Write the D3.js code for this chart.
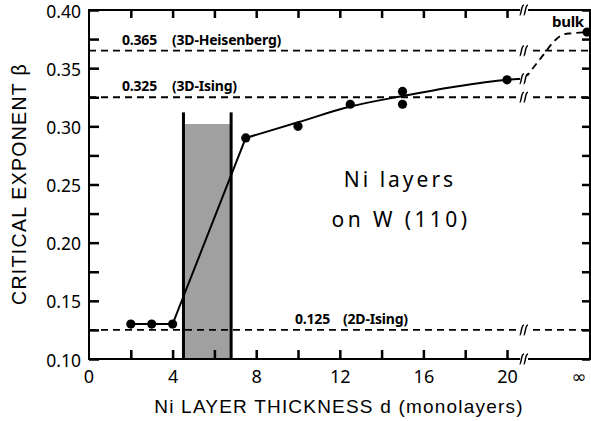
<!DOCTYPE html>
<html>
<head>
<meta charset="utf-8">
<script src="https://cdn.jsdelivr.net/npm/d3@7"></script>
<style>
  html, body { margin: 0; padding: 0; background: #fff; }
  svg { display: block; }
</style>
</head>
<body>
<svg id="chart" width="591" height="421"></svg>
<script>
// Measured critical exponent beta of Ni films on W(110)
const thickness = [2, 3, 4, 7.5, 10, 12.5, 15, 15, 20];
const beta      = [0.130, 0.130, 0.130, 0.290, 0.300, 0.319, 0.330, 0.319, 0.340];
const bulkBeta  = 0.381;

// Guide curve through the thicker films, up to the axis break
const fitThickness = [7.5, 10, 12.5, 15, 17.5, 20, 20.72];
const fitBeta      = [0.290, 0.3035, 0.317, 0.326, 0.334, 0.340, 0.341];

// Dashed link from the break to the bulk value
const linkThickness = [20.86, 21.72, 22.3, 22.7, 23.1, 23.83];
const linkBeta      = [0.341, 0.361, 0.374, 0.379, 0.380, 0.381];

// Universality-class exponents
const classValues = [0.365, 0.325, 0.125];
const classValueLabels = ["0.365", "0.325", "0.125"];
const classNames  = ["(3D-Heisenberg)", "(3D-Ising)", "(2D-Ising)"];

// Shaded thickness range and its bounding lines
const bandEdges = [4.52, 6.80];
const bandTop = 0.302;
const bandLineTop = 0.312;

// Axis ticks
const xTickValues = [2, 4, 6, 8, 10, 12, 14, 16, 18, 20];
const xTickLabels = ["", "4", "", "8", "", "12", "", "16", "", "20"];
const yTickValues = [0.10, 0.125, 0.15, 0.175, 0.20, 0.225, 0.25, 0.275, 0.30, 0.325, 0.35, 0.375, 0.40];
const yTickLabels = ["0.10", "", "0.15", "", "0.20", "", "0.25", "", "0.30", "", "0.35", "", "0.40"];

// Layout
const plotLeft = 89, plotRight = 590, plotTop = 10, plotBottom = 359;
const BREAK_D = 20.72;   // where the thickness axis is broken
const INF_D = 23.44;     // where the "∞" column sits
const BULK_D = 23.83;

const svg = d3.select("#chart");
const x = d3.scaleLinear().domain([0, 20]).range([plotLeft, 507]);
const y = d3.scaleLinear().domain([0.10, 0.40]).range([plotBottom, plotTop]);

const tickFont = "'Noto Sans', 'DejaVu Sans', sans-serif";
const titleFont = "'Liberation Sans', Arial, sans-serif";

// Shaded band
svg.append("rect")
  .attr("x", x(bandEdges[0])).attr("width", x(bandEdges[1]) - x(bandEdges[0]))
  .attr("y", y(bandTop)).attr("height", y(0.10) - y(bandTop))
  .attr("fill", "#a0a0a0");
svg.selectAll("line.band").data(bandEdges).join("line")
  .attr("class", "band")
  .attr("x1", d => x(d)).attr("x2", d => x(d))
  .attr("y1", y(bandLineTop)).attr("y2", y(0.10))
  .attr("stroke", "#000").attr("stroke-width", 3);

// Reference lines for universality classes
svg.selectAll("line.ref").data(classValues).join("line")
  .attr("class", "ref")
  .attr("x1", plotLeft).attr("x2", plotRight)
  .attr("y1", d => y(d)).attr("y2", d => y(d))
  .attr("stroke", "#000").attr("stroke-width", 1.8)
  .attr("stroke-dasharray", "7,5");

const labelX = [122, 122, 295];
const nameX = [172, 172, 343];
classValues.forEach((v, i) => {
  svg.append("text")
    .attr("x", labelX[i]).attr("y", y(v) - 6)
    .attr("font-family", tickFont).attr("font-weight", "bold")
    .attr("font-size", 14).attr("letter-spacing", -0.2).text(classValueLabels[i]);
  svg.append("text")
    .attr("x", nameX[i]).attr("y", y(v) - 6)
    .attr("font-family", tickFont).attr("font-weight", "bold")
    .attr("font-size", 14).attr("letter-spacing", -0.2).text(classNames[i]);
});

// Data lines
const straight = d3.line().x(d => x(d[0])).y(d => y(d[1]));
const smooth = d3.line().x(d => x(d[0])).y(d => y(d[1])).curve(d3.curveMonotoneX);
const rise = thickness.slice(0, 4).map((d, i) => [d, beta[i]]);
svg.append("path").datum(rise)
  .attr("d", straight).attr("fill", "none")
  .attr("stroke", "#000").attr("stroke-width", 2);

svg.append("path").datum(fitThickness.map((d, i) => [d, fitBeta[i]]))
  .attr("d", smooth).attr("fill", "none")
  .attr("stroke", "#000").attr("stroke-width", 2);

svg.append("path").datum(linkThickness.map((d, i) => [d, linkBeta[i]]))
  .attr("d", smooth)
  .attr("fill", "none").attr("stroke", "#000").attr("stroke-width", 1.8)
  .attr("stroke-dasharray", "7,5");

// Data points
svg.selectAll("circle.pt").data(thickness.map((d, i) => [d, beta[i]])).join("circle")
  .attr("class", "pt")
  .attr("cx", d => x(d[0])).attr("cy", d => y(d[1])).attr("r", 4.6)
  .attr("fill", "#000");
svg.append("circle")
  .attr("cx", x(BULK_D)).attr("cy", y(bulkBeta)).attr("r", 4.6).attr("fill", "#000");

svg.append("text")
  .attr("x", 552).attr("y", y(bulkBeta) - 5)
  .attr("font-family", tickFont).attr("font-weight", "bold")
  .attr("font-size", 15).attr("letter-spacing", -0.3).text("bulk");

// Axes
svg.append("g").attr("transform", `translate(0,${plotBottom})`)
  .call(d3.axisBottom(x).tickValues(xTickValues)
    .tickFormat((d, i) => xTickLabels[i]).tickSize(-9).tickPadding(11))
  .call(g => g.select(".domain").remove())
  .call(g => g.selectAll("line").attr("stroke-width", 2.5))
  .call(g => g.selectAll("text").attr("font-family", tickFont).attr("font-size", 18).attr("fill", "#000"));

svg.append("g").attr("transform", `translate(0,${plotTop})`)
  .call(d3.axisTop(x).tickValues(xTickValues).tickFormat("").tickSize(-8))
  .call(g => g.select(".domain").remove())
  .call(g => g.selectAll("line").attr("stroke-width", 2.5));

svg.append("g").attr("transform", `translate(${plotLeft},0)`)
  .call(d3.axisLeft(y).tickValues(yTickValues)
    .tickFormat((d, i) => yTickLabels[i]).tickSize(-10).tickPadding(8))
  .call(g => g.select(".domain").remove())
  .call(g => g.selectAll("line").attr("stroke-width", 2.5))
  .call(g => g.selectAll("text").attr("font-family", tickFont).attr("font-size", 17.5)
    .attr("dy", "0.4em").attr("fill", "#000"));

svg.append("g").attr("transform", `translate(${plotRight},0)`)
  .call(d3.axisRight(y).tickValues(yTickValues).tickFormat("").tickSize(-8))
  .call(g => g.select(".domain").remove())
  .call(g => g.selectAll("line").attr("stroke-width", 2.5));

// Frame
svg.append("rect")
  .attr("x", plotLeft).attr("y", plotTop)
  .attr("width", plotRight - plotLeft).attr("height", plotBottom - plotTop)
  .attr("fill", "none").attr("stroke", "#000").attr("stroke-width", 2);

// Zero label and infinity label
svg.append("text")
  .attr("x", x(0)).attr("y", plotBottom + 11).attr("dy", "0.71em")
  .attr("text-anchor", "middle")
  .attr("font-family", tickFont).attr("font-size", 18).text("0");
svg.append("text")
  .attr("x", x(INF_D)).attr("y", plotBottom + 11).attr("dy", "0.71em")
  .attr("text-anchor", "middle")
  .attr("font-family", tickFont).attr("font-size", 18).text("∞");

// Axis break marks
const breakYs = [plotTop, y(classValues[0]), y(classValues[1]), y(fitBeta[fitBeta.length - 1]), y(classValues[2]), plotBottom];
const bx = x(BREAK_D) + 2;
const breaks = svg.append("g");
breakYs.forEach(by => {
  const g = breaks.append("g").attr("transform", `translate(${bx},${by})`);
  g.append("rect").attr("x", -4).attr("y", -2.5).attr("width", 8).attr("height", 5).attr("fill", "#fff");
  [-2.2, 1.8].forEach(off => {
    g.append("path")
      .attr("d", `M${off - 2.2},5 C${off - 0.2},5 ${off - 1},-5 ${off + 2.2},-5`)
      .attr("fill", "none").attr("stroke", "#000").attr("stroke-width", 1.5);
  });
});

// Axis titles
svg.append("text")
  .attr("x", 339).attr("y", 413)
  .attr("text-anchor", "middle")
  .attr("font-family", titleFont).attr("font-size", 19).attr("letter-spacing", 1.2)
  .text("Ni LAYER THICKNESS d (monolayers)");

svg.append("text")
  .attr("transform", "translate(25.5,184) rotate(-90)")
  .attr("text-anchor", "middle")
  .attr("font-family", titleFont).attr("font-size", 19.5).attr("letter-spacing", 1.3)
  .text("CRITICAL EXPONENT β");

// Inset caption
svg.append("text")
  .attr("x", 400).attr("y", 187).attr("text-anchor", "middle")
  .attr("font-family", tickFont).attr("font-size", 21).attr("letter-spacing", 3)
  .text("Ni layers");
svg.append("text")
  .attr("x", 401).attr("y", 227).attr("text-anchor", "middle")
  .attr("font-family", tickFont).attr("font-size", 21).attr("letter-spacing", 3.4)
  .text("on W (110)");
</script>
</body>
</html>
